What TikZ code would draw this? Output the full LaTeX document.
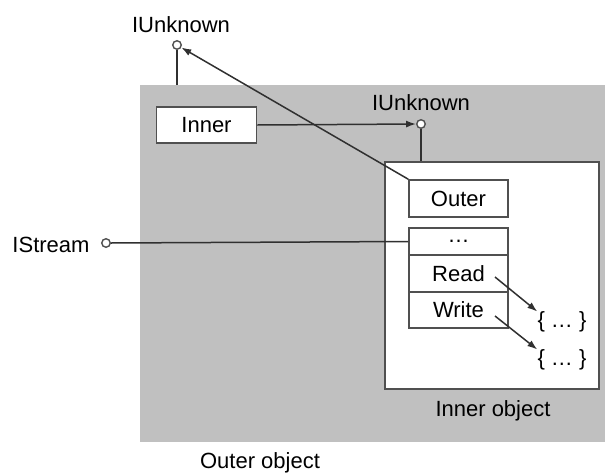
\documentclass[tikz,border=0pt]{standalone}
\usepackage{fontspec}
\setmainfont{Liberation Sans}
\usetikzlibrary{arrows.meta}
\definecolor{shade}{HTML}{C0C0C0}
\definecolor{boxline}{HTML}{505050}
\definecolor{wireline}{HTML}{303030}
\begin{document}
\begin{tikzpicture}[x=1pt,y=-1pt,
  box/.style={draw=boxline, line width=1.7pt, fill=white, inner sep=0pt},
  port/.style={circle, draw=boxline, fill=white, line width=1.4pt, minimum size=8.5pt, inner sep=0pt},
  wire/.style={draw=wireline, line width=1.5pt},
  arr/.style={wire, -{Latex[length=10pt,width=7pt]}},
  lbl/.style={font=\fontsize{22}{26}\selectfont, inner sep=0pt, text=black}
]
\useasboundingbox (0,0) rectangle (605,474);

% outer object (grey area)
\node[fill=shade, draw=none, inner sep=0pt, minimum width=465pt, minimum height=357pt] (outerobj) at (372.5,263.5) {};
\node[lbl, anchor=base] (outerlbl) at (260,468) {Outer object};

% inner object
\node[box, minimum width=214pt, minimum height=227pt] (innerobj) at (492,275.5) {};
\node[lbl, anchor=base] (innerlbl) at (493,416) {Inner object};

% boxes
\node[box, lbl, minimum width=100pt, minimum height=36pt] (inner) at (206.5,125) {Inner};
\node[box, lbl, minimum width=99pt, minimum height=37pt] (outer) at (458.5,198.5) {Outer};
\node[box, lbl, minimum width=99pt, minimum height=27pt] (dots) at (458.5,241.5) {\ldots};
\node[box, lbl, minimum width=99pt, minimum height=37pt] (read) at (458.5,273.5) {Read};
\node[box, lbl, minimum width=99pt, minimum height=36pt] (write) at (458.5,310) {Write};

% interface ports
\node[port] (p1) at (177,45) {};
\node[port] (p2) at (421,124) {};
\node[port] (p3) at (106,243) {};
\node[lbl, anchor=base] (l1) at (181,32) {IUnknown};
\node[lbl, anchor=base] (l2) at (421,110) {IUnknown};
\node[lbl, anchor=base] (l3) at (51,252) {IStream};

% method bodies
\node[lbl] (b1) at (562,322) {\{ \ldots\ \}};
\node[lbl] (b2) at (562,360) {\{ \ldots\ \}};
\coordinate (r0) at (495,277);
\coordinate (w0) at (495,316);

% connectors
\draw[wire] (p1.south) -- (p1 |- outerobj.north);
\draw[wire] (p2.south) -- (p2 |- innerobj.north);
\draw[arr] (inner.east) -- (p2.west);
\draw[arr] (outer.north west) -- (p1);
\draw[wire] (p3.east) -- (dots.west);
\draw[arr] (r0) -- (b1.north west);
\draw[arr] (w0) -- (b2.north west);
\end{tikzpicture}
\end{document}
